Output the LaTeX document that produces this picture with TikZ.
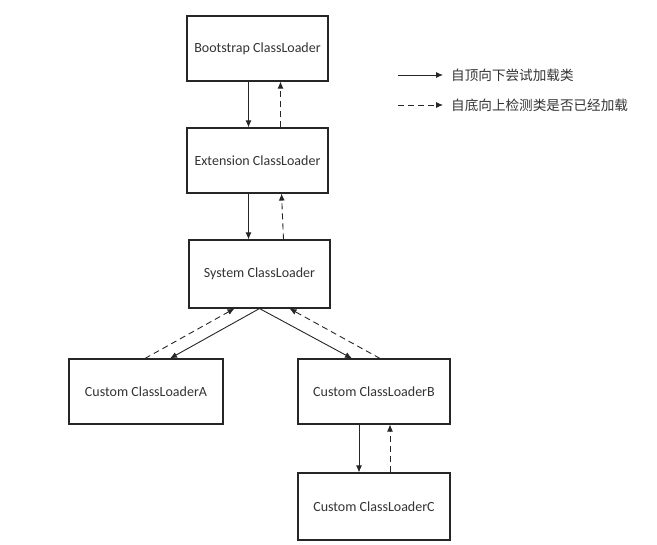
\documentclass[tikz,border=0pt]{standalone}
\usepackage{fontspec}
\setmainfont{Carlito}
\newfontfamily\cjk{Noto Sans CJK SC}
\usetikzlibrary{arrows.meta,positioning}
\tikzset{
    loaderBox/.style={
    ,   rectangle
    ,   draw=black!85
    ,   line width=1.1pt
    ,   minimum width=141pt
    ,   minimum height=65pt
    ,   text=black!80
    ,   font=\fontsize{14pt}{15}\selectfont
    },
    tryLoad/.style={
    ,   -{Latex[length=7pt, width=6pt]}
    ,   draw=black!85
    ,   line width=0.9pt
    },
    checkLoad/.style={
    ,   tryLoad
    ,   dash pattern=on 6pt off 4pt
    },
    legendText/.style={
    ,   anchor=west
    ,   inner xsep=8pt
    ,   inner ysep=1pt
    ,   text=black!80
    ,   font=\cjk\fontsize{13.6pt}{15}\selectfont
    },
}

\begin{document}
\begin{tikzpicture}[x=1pt,y=-1pt]
    \useasboundingbox (0,0) rectangle (657,545);

    % loaders
    \node[loaderBox] (bootstrap) at (257.5,48.5) {Bootstrap ClassLoader};
    \node[loaderBox] (extension) at (257.5,160.5) {Extension ClassLoader};
    \node[loaderBox, minimum height=68pt] (system) at (259.5,274) {System ClassLoader};
    \node[loaderBox, minimum width=154pt] (customA) at (146,391.5) {Custom ClassLoaderA};
    \node[loaderBox, minimum width=152pt] (customB) at (374,391.5) {Custom ClassLoaderB};
    \node[loaderBox, minimum width=152pt, minimum height=67pt] (customC) at (374,506.5) {Custom ClassLoaderC};

    % top-down delegation / bottom-up check
    \path ([xshift=-9pt]bootstrap.south) edge[tryLoad] ([xshift=-9pt]extension.north)
          ([xshift=23pt]extension.north) edge[checkLoad] ([xshift=23pt]bootstrap.south)
          ([xshift=-9pt]extension.south) edge[tryLoad] ([xshift=-11pt]system.north)
          ([xshift=24pt]system.north) edge[checkLoad] ([xshift=24pt]extension.south)
          (system.south) edge[tryLoad] ([xshift=24pt]customA.north)
          ([xshift=-1pt]customA.north) edge[checkLoad] ([xshift=-25pt]system.south)
          (system.south) edge[tryLoad] ([xshift=-22pt]customB.north)
          ([xshift=6pt]customB.north) edge[checkLoad] ([xshift=30pt]system.south)
          ([xshift=-15pt]customB.south) edge[tryLoad] ([xshift=-15pt]customC.north)
          ([xshift=16pt]customC.north) edge[checkLoad] ([xshift=16pt]customB.south);

    % legend
    \coordinate (solidStart) at (398,75);
    \coordinate (dashStart) at (398,105);
    \node[legendText] (solidText) at (443,75) {自顶向下尝试加载类};
    \node[legendText] (dashText) at (443,105) {自底向上检测类是否已经加载};
    \draw[tryLoad] (solidStart) -- (solidText.west);
    \draw[checkLoad] (dashStart) -- (dashText.west);
\end{tikzpicture}
\end{document}
